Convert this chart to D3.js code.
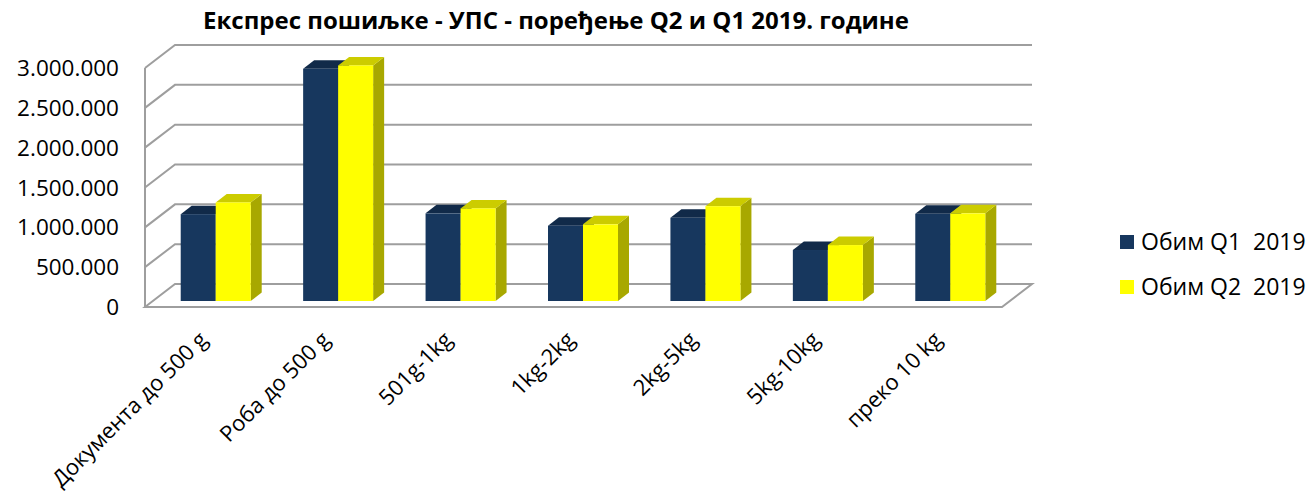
<!DOCTYPE html>
<html>
<head>
<meta charset="utf-8">
<script src="https://cdn.jsdelivr.net/npm/d3@7"></script>
<style>
  html, body { margin: 0; padding: 0; background: #fff; }
  #app { width: 1306px; height: 498px; }
  text { font-family: "Open Sans", sans-serif; fill: #000; }
</style>
</head>
<body>
<div id="app"></div>
<script>
// Chart data
const title = "Експрес пошиљке - УПС - поређење Q2 и Q1 2019. године";
const categories = ["Документа до 500 g", "Роба до 500 g", "501g-1kg", "1kg-2kg", "2kg-5kg", "5kg-10kg", "преко 10 kg"];
const seriesNames = ["Обим Q1  2019", "Обим Q2  2019"];
const q1Values = [1090000, 2915000, 1100000, 945000, 1045000, 640000, 1095000];
const q2Values = [1237000, 2957000, 1162000, 962000, 1190000, 702000, 1100000];
const yTicks = [0, 500000, 1000000, 1500000, 2000000, 2500000, 3000000];

function drawPlot(targetDiv) {
  const element = d3.select(targetDiv);
  const width = 1306, height = 498;
  const svg = d3.create("svg")
    .attr("width", width)
    .attr("height", height)
    .attr("viewBox", [0, 0, width, height]);

  // front plane of the plot box
  const left = 145, right = 1002, bottom = 307, top = 68;
  // depth of the floor (oblique projection)
  const depth = {dx: 30, dy: -23};
  // where the bars stand inside the floor
  const barShift = {dx: 9.5, dy: -6};
  const barDepth = {dx: 11, dy: -8.5};

  const x = d3.scaleBand()
    .domain(categories)
    .range([left, right]);

  const y = d3.scaleLinear()
    .domain([0, 3000000])
    .range([bottom, top]);

  const fmt = v => d3.format(",")(v).replace(/,/g, ".");

  // walls & gridlines
  const grid = svg.append("g")
    .attr("fill", "none")
    .attr("stroke", "#9e9e9e")
    .attr("stroke-width", 2);

  grid.selectAll("path.gl")
    .data(yTicks.filter(d => d > 0))
    .join("path")
    .attr("class", "gl")
    .attr("d", d => `M${left},${y(d)}L${left + depth.dx},${y(d) + depth.dy}L${right + depth.dx},${y(d) + depth.dy}`);

  // left wall front edge
  grid.append("path")
    .attr("d", `M${left},${y(0)}L${left},${y(3000000)}`);

  // floor
  grid.append("path")
    .attr("d", `M${left},${y(0)}L${left + depth.dx},${y(0) + depth.dy}L${right + depth.dx},${y(0) + depth.dy}L${right},${y(0)}Z`);

  // y labels
  svg.append("g")
    .selectAll("text")
    .data(yTicks)
    .join("text")
    .attr("x", 119)
    .attr("y", d => y(d))
    .attr("dy", "0.36em")
    .attr("text-anchor", "end")
    .attr("font-size", 22.5)
    .text(fmt);

  // bars
  const barW = 35;
  const series = [
    {name: seriesNames[0], values: q1Values, front: "#17375e", top: "#112a49", side: "#0f2540"},
    {name: seriesNames[1], values: q2Values, front: "#ffff00", top: "#cccc00", side: "#a8a800"}
  ];

  const cx = c => x(c) + x.bandwidth() / 2 + barShift.dx;
  const base = y(0) + barShift.dy;

  const bars = svg.append("g");
  categories.forEach((c, i) => {
    series.forEach((s, j) => {
      const x0 = cx(c) - barW + j * barW;
      const x1 = x0 + barW;
      const y1 = base - (y(0) - y(s.values[i]));
      const g = bars.append("g");
      g.append("path")
        .attr("fill", s.side)
        .attr("d", `M${x1},${base}L${x1 + barDepth.dx},${base + barDepth.dy}L${x1 + barDepth.dx},${y1 + barDepth.dy}L${x1},${y1}Z`);
      g.append("path")
        .attr("fill", s.top)
        .attr("d", `M${x0},${y1}L${x0 + barDepth.dx},${y1 + barDepth.dy}L${x1 + barDepth.dx},${y1 + barDepth.dy}L${x1},${y1}Z`);
      g.append("rect")
        .attr("x", x0)
        .attr("y", y1)
        .attr("width", barW)
        .attr("height", base - y1)
        .attr("fill", s.front);
    });
  });

  // category labels, rotated, ending under each category
  svg.append("g")
    .selectAll("text")
    .data(categories)
    .join("text")
    .attr("transform", d => `translate(${cx(d) - 7},${341}) rotate(-45)`)
    .attr("text-anchor", "end")
    .attr("font-size", 22)
    .text(d => d);

  // title
  svg.append("text")
    .attr("x", 556)
    .attr("y", 28.5)
    .attr("text-anchor", "middle")
    .attr("font-size", 24)
    .attr("font-weight", "bold")
    .text(title);

  // legend
  const legend = svg.append("g")
    .selectAll("g")
    .data(series)
    .join("g")
    .attr("transform", (d, i) => `translate(1120, ${242 + i * 45})`);
  legend.append("rect")
    .attr("x", 0).attr("y", -7)
    .attr("width", 14).attr("height", 14)
    .attr("fill", d => d.front);
  legend.append("text")
    .attr("x", 21)
    .attr("dy", "0.36em")
    .attr("font-size", 23)
    .attr("xml:space", "preserve")
    .style("white-space", "pre")
    .text(d => d.name);

  element.node().append(svg.node());
}

function main() {
  drawPlot("#app");
}

document.addEventListener("DOMContentLoaded", main);
</script>
</body>
</html>
